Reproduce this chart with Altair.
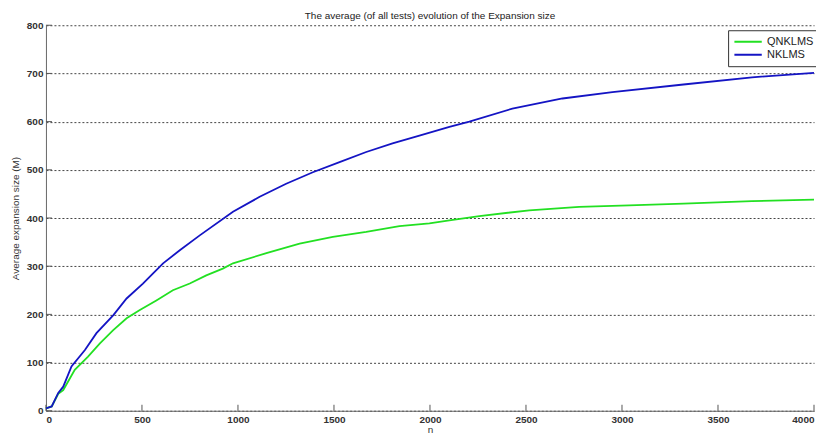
import altair as alt
import pandas as pd

# NKLMS (blue) readings
n_nklms = [0, 30, 64, 90, 133, 203, 263, 350, 420, 505, 558, 610, 697, 801, 974,
           1113, 1251, 1390, 1529, 1668, 1805, 1945, 2101, 2205, 2429, 2690, 2950,
           3320, 3677, 4000]
v_nklms = [5, 9, 37, 50, 92, 126, 161, 198, 233, 264, 285, 306, 333, 364, 413,
           444, 471, 495, 516, 537, 555, 571, 589, 600, 627, 648, 661,
           677, 692, 701]

# QNKLMS (green) readings
n_qnklms = [0, 30, 64, 90, 150, 218, 281, 349, 420, 489, 575, 661, 749, 835, 921,
            974, 1148, 1321, 1494, 1668, 1841, 1997, 2101, 2257, 2517, 2777, 3037,
            3320, 3677, 4000]
v_qnklms = [5, 9, 35, 43, 85, 112, 140, 167, 192, 209, 229, 250, 264, 281, 295,
            306, 327, 347, 361, 371, 383, 389, 395, 404, 416, 423, 426,
            430, 435, 438]

series_names = ["QNKLMS", "NKLMS"]
series_colors = ["#22e022", "#1414c4"]
x_ticks = [0, 500, 1000, 1500, 2000, 2500, 3000, 3500, 4000]
y_ticks = [0, 100, 200, 300, 400, 500, 600, 700, 800]

W, H = 769, 386

df = pd.concat([
    pd.DataFrame({"n": n_qnklms, "value": v_qnklms, "series": "QNKLMS"}),
    pd.DataFrame({"n": n_nklms, "value": v_nklms, "series": "NKLMS"}),
])

FONT = "Liberation Sans Narrow, Liberation Sans, Arial, sans-serif"

xscale = alt.Scale(domain=[0, 4000], nice=False, zero=False)
yscale = alt.Scale(domain=[0, 800], nice=False)

lines = alt.Chart(df).mark_line(strokeWidth=1.8, interpolate="linear").encode(
    x=alt.X("n:Q", scale=xscale,
            axis=alt.Axis(values=x_ticks, title="n", grid=False, tickSize=0,
                          labelPadding=4, titlePadding=0, format="d")),
    y=alt.Y("value:Q", scale=yscale,
            axis=alt.Axis(values=y_ticks, title="Average expansion size (M)",
                          grid=True, tickSize=0, labelPadding=3, titlePadding=6,
                          format="d")),
    color=alt.Color("series:N",
                    scale=alt.Scale(domain=series_names, range=series_colors),
                    sort=series_names,
                    legend=alt.Legend(title=None, orient="none", legendX=683,
                                      legendY=5, direction="vertical",
                                      symbolType="stroke", symbolStrokeWidth=2,
                                      symbolSize=750, clipHeight=13,
                                      strokeColor="#333333",
                                      fillColor="white", padding=5,
                                      labelFont=FONT, labelFontSize=11,
                                      labelColor="#222222", rowPadding=0,
                                      labelOffset=4)),
    order=alt.Order("n:Q"),
)

xt = alt.Chart(pd.DataFrame({"t": x_ticks})).mark_rule(color="#555555", strokeWidth=1).encode(
    x=alt.X("t:Q", scale=xscale),
    y=alt.value(H), y2=alt.value(H - 6),
)
yt = alt.Chart(pd.DataFrame({"t": y_ticks})).mark_rule(color="#555555", strokeWidth=1).encode(
    y=alt.Y("t:Q", scale=yscale),
    x=alt.value(0), x2=alt.value(6),
)

chart = alt.layer(xt, yt, lines).properties(
    width=W, height=H,
    title=alt.Title("The average (of all tests) evolution of the Expansion size",
                    font=FONT, fontSize=10, fontWeight="normal", color="#222222",
                    offset=-1),
    autosize=alt.AutoSizeParams(type="none"),
    padding={"left": 38, "top": 17, "right": 2, "bottom": 24},
).configure_view(stroke=None).configure_axis(
    labelFont=FONT, labelFontSize=10, labelColor="#333333", labelFontWeight="bold",
    titleFont=FONT, titleFontSize=10, titleColor="#333333", titleFontWeight="normal",
    domainColor="#666666", domainWidth=1,
    gridColor="#444444", gridDash=[2, 2], gridWidth=1,
).configure_axisY(domain=True).configure_axisX(domain=True)

chart.save("out.html", embed_options={"renderer": "svg", "actions": False})
